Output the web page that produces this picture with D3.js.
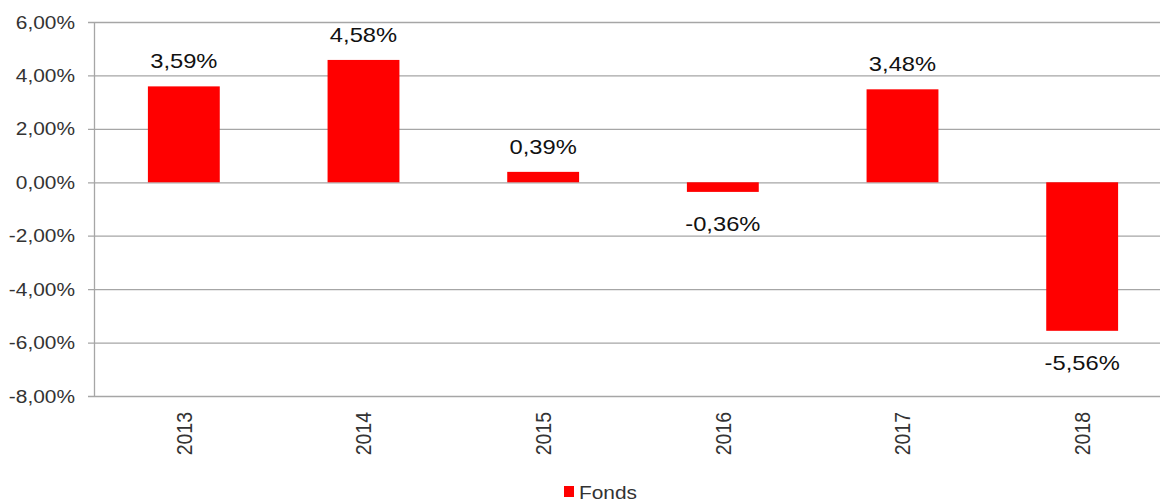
<!DOCTYPE html>
<html>
<head>
<meta charset="utf-8">
<script src="https://cdn.jsdelivr.net/npm/d3@7"></script>
<style>
  body { margin: 0; background: #fff; }
  svg { display: block; font-family: "Liberation Sans", Arial, sans-serif; }
</style>
</head>
<body>
<div class="barChart"></div>
<script>
// --- Data ---
const years = ["2013", "2014", "2015", "2016", "2017", "2018"];
const fonds = [3.59, 4.58, 0.39, -0.36, 3.48, -5.56];
const yTicks = [6, 4, 2, 0, -2, -4, -6, -8];
const seriesName = "Fonds";

// --- Config ---
const width = 1160;
const height = 502;
const margin = { top: 22, right: -12, bottom: 106, left: 94 };
const sx = 1.13; // the picture is stretched a bit horizontally
const red = "#ff0000";
const gridColor = "#a6a6a6";

// german style: comma decimal, plain hyphen for minus
const locale = d3.formatLocale({ decimal: ",", thousands: ".", grouping: [3], currency: ["", "€"], minus: "-" });
const fmt = v => locale.format(".2f")(v) + "%";

const svg = d3.select(".barChart")
  .append("svg")
  .attr("width", width)
  .attr("height", height);

const x = d3.scaleBand()
  .domain(years)
  .range([margin.left, width - margin.right]);

const y = d3.scaleLinear()
  .domain([-8, 6])
  .range([height - margin.bottom, margin.top]);

// --- Grid lines ---
svg.append("g")
  .selectAll("line")
  .data(yTicks)
  .join("line")
  .attr("x1", margin.left - 6)
  .attr("x2", width)
  .attr("y1", d => y(d) + 0.5)
  .attr("y2", d => y(d) + 0.5)
  .attr("stroke", gridColor)
  .attr("stroke-width", 1.3);

// y axis line
svg.append("line")
  .attr("x1", margin.left + 0.5)
  .attr("x2", margin.left + 0.5)
  .attr("y1", y(6))
  .attr("y2", y(-8))
  .attr("stroke", gridColor)
  .attr("stroke-width", 1.3);

// --- Y tick labels ---
svg.append("g")
  .selectAll("text")
  .data(yTicks)
  .join("text")
  .attr("transform", d => `translate(${margin.left - 19},${y(d)}) scale(${sx},1)`)
  .attr("text-anchor", "end")
  .attr("dominant-baseline", "central")
  .attr("font-size", 18.5)
  .attr("fill", "#333")
  .text(d => fmt(d));

// --- Bars ---
const barW = x.bandwidth() * 0.4;
svg.append("g")
  .selectAll("rect")
  .data(fonds)
  .join("rect")
  .attr("x", (d, i) => x(years[i]) + (x.bandwidth() - barW) / 2)
  .attr("y", d => y(Math.max(0, d)))
  .attr("width", barW)
  .attr("height", d => Math.abs(y(d) - y(0)))
  .attr("fill", red);

// --- Value labels ---
svg.append("g")
  .selectAll("text")
  .data(fonds)
  .join("text")
  .attr("transform", (d, i) => {
    const cx = x(years[i]) + x.bandwidth() / 2;
    const cy = d >= 0 ? y(d) - 25 : y(d) + 32;
    return `translate(${cx},${cy}) scale(${sx},1)`;
  })
  .attr("text-anchor", "middle")
  .attr("dominant-baseline", "central")
  .attr("font-size", 21)
  .attr("fill", "#111")
  .text(d => fmt(d));

// --- X labels (rotated) ---
svg.append("g")
  .selectAll("text")
  .data(years)
  .join("text")
  .attr("transform", d => `translate(${x(d) + x.bandwidth() / 2},${y(-8) + 16}) scale(${sx},1) rotate(-90)`)
  .attr("text-anchor", "end")
  .attr("dominant-baseline", "central")
  .attr("font-size", 19.5)
  .attr("fill", "#333")
  .text(d => d);

// --- Legend ---
const legend = svg.append("g")
  .attr("transform", `translate(564,${height - 10})`);

legend.append("rect")
  .attr("x", 0)
  .attr("y", -6)
  .attr("width", 10)
  .attr("height", 11)
  .attr("fill", red);

legend.append("text")
  .attr("transform", `translate(15,0) scale(${sx},1)`)
  .attr("dominant-baseline", "central")
  .attr("font-size", 18.5)
  .attr("fill", "#333")
  .text(seriesName);
</script>
</body>
</html>
